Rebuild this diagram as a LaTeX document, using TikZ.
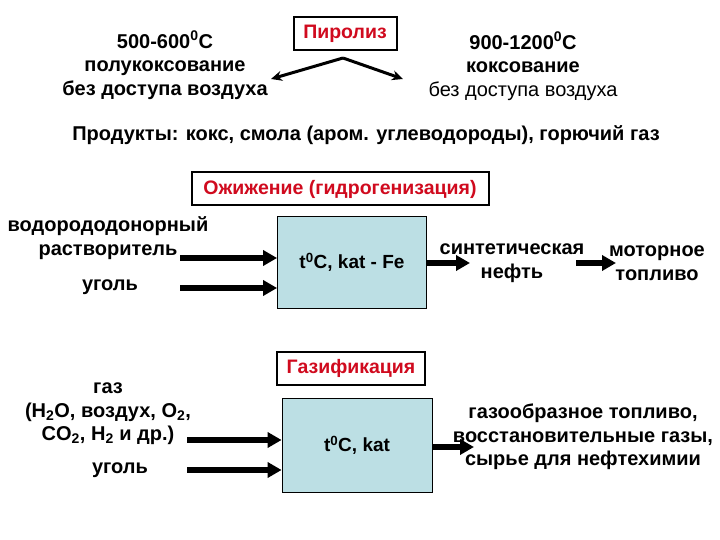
\documentclass[tikz,border=0pt]{standalone}
\usepackage{fontspec}
\setmainfont{Liberation Sans}
\usetikzlibrary{arrows.meta}
\definecolor{boxblue}{HTML}{BCDFE4}
\definecolor{titlered}{HTML}{D00A1E}
\tikzset{
  lbl/.style={font=\bfseries\fontsize{20}{23.5}\selectfont, align=center, inner sep=0pt},
  titlebox/.style={draw=black, line width=2pt, fill=white, text=titlered, font=\bfseries\fontsize{19.5}{22}\selectfont, inner sep=0pt, minimum height=33pt},
  procbox/.style={draw=black, line width=0.8pt, fill=boxblue, inner sep=0pt, font=\bfseries\fontsize{19}{22}\selectfont},
  fatarrow/.style={line width=5.5pt, -{Triangle[length=14pt,width=15pt]}},
  thinarrow/.style={line width=3pt, -{Stealth[length=11pt,width=10pt]}}
}
\begin{document}
\begin{tikzpicture}[x=1pt,y=-1pt]
\useasboundingbox[fill=white] (0,0) rectangle (720,540);

% Pyrolysis
\node[titlebox, minimum width=103pt] (pyr) at (345,34) {Пиролиз};
\coordinate (apex) at (343,58);
\node[lbl] (semi) at (165,65) {500-600\textsuperscript{0}C\\полукоксование\\без доступа воздуха};
\node[lbl] (coke) at (523,66) {900-1200\textsuperscript{0}C\\коксование\\\mdseries без доступа воздуха};
\coordinate (lend) at (271,79);
\coordinate (rend) at (403,79);
\draw[thinarrow] (apex) -- (lend);
\draw[thinarrow] (apex) -- (rend);

\node[lbl] (prod) at (366,135) {Продукты: кокс, смола (аром. углеводороды), горючий газ};

% Liquefaction
\node[titlebox, minimum width=297pt] (liq) at (340,189) {Ожижение (гидрогенизация)};
\node[procbox, minimum width=149pt, minimum height=92pt] (lbox) at (352,262) {t\textsuperscript{0}C, kat - Fe};
\node[lbl] (solv) at (108,238) {водорододонорный\\растворитель};
\node[lbl] (coal1) at (110,287) {уголь};
\coordinate (s1) at (180,258);
\coordinate (s2) at (180,288);
\draw[fatarrow] (s1) -- (s1 -| lbox.west);
\draw[fatarrow] (s2) -- (s2 -| lbox.west);
\node[lbl] (synth) at (512,263) {синтетическая\\нефть};
\node[lbl] (motor) at (657,263) {моторное\\топливо};
\draw[fatarrow] (lbox.east |- 0,263) -- (470,263);
\draw[fatarrow] (576,263) -- (616,263);

% Gasification
\node[titlebox, minimum width=148pt] (gas) at (351,368) {Газификация};
\node[procbox, minimum width=150pt, minimum height=94pt] (gbox) at (357,445) {t\textsuperscript{0}C, kat};
\node[lbl] (gasin) at (108,414) {газ\\(H\textsubscript{2}O, воздух, O\textsubscript{2},\\CO\textsubscript{2}, H\textsubscript{2} и др.)};
\node[lbl] (coal2) at (120,470) {уголь};
\coordinate (g1) at (187,440);
\coordinate (g2) at (187,470);
\draw[fatarrow] (g1) -- (g1 -| gbox.west);
\draw[fatarrow] (g2) -- (g2 -| gbox.west);
\draw[fatarrow] (gbox.east |- 0,447) -- (474,447);
\node[lbl] (gasout) at (583,437) {газообразное топливо,\\восстановительные газы,\\сырье для нефтехимии};
\end{tikzpicture}
\end{document}
